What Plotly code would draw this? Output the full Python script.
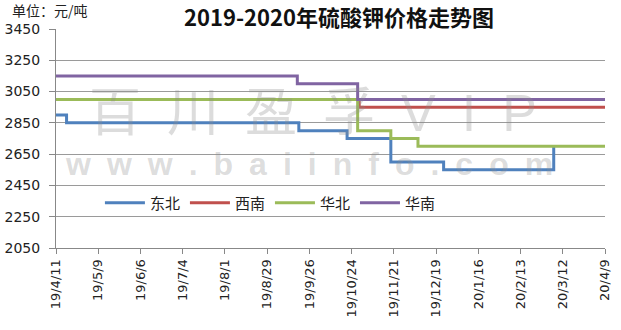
import plotly.graph_objects as go

# ---- data (change points of each weekly price series, 元/吨) ----
ne_dates = ["2019-04-11", "2019-04-18", "2019-09-19", "2019-10-21", "2019-11-19", "2019-12-24", "2020-03-06"]
ne_vals = [2900, 2850, 2800, 2750, 2600, 2550, 2700]

sw_dates = ["2019-04-11", "2019-10-29", "2020-04-09"]
sw_vals = [3000, 2950, 2950]

nc_dates = ["2019-04-11", "2019-10-28", "2019-11-19", "2019-12-07", "2020-04-09"]
nc_vals = [3000, 2800, 2750, 2700, 2700]

sc_dates = ["2019-04-11", "2019-09-18", "2019-10-28", "2020-04-09"]
sc_vals = [3150, 3100, 3000, 3000]

series_names = ["东北", "西南", "华北", "华南"]
series_colors = ["#4F81BD", "#C0504D", "#9BBB59", "#8064A2"]

tick_dates = ["2019-04-11", "2019-05-09", "2019-06-06", "2019-07-04", "2019-08-01", "2019-08-29",
              "2019-09-26", "2019-10-24", "2019-11-21", "2019-12-19", "2020-01-16", "2020-02-13",
              "2020-03-12", "2020-04-09"]
tick_labels = ["19/4/11", "19/5/9", "19/6/6", "19/7/4", "19/8/1", "19/8/29", "19/9/26",
               "19/10/24", "19/11/21", "19/12/19", "20/1/16", "20/2/13", "20/3/12", "20/4/9"]

y_ticks = [2050, 2250, 2450, 2650, 2850, 3050, 3250, 3450]

title_text = "2019-2020年硫酸钾价格走势图"
unit_text = "单位：元/吨"
watermark_1 = "\u2002".join("百川盈孚VIP")
watermark_2 = "\u2002".join("www.baiinfo.com")

FONT = "Noto Sans CJK SC"
WM_COLOR = "rgba(140,140,140,0.30)"

fig = go.Figure()
for name, xs, ys, col in zip(series_names,
                             [ne_dates, sw_dates, nc_dates, sc_dates],
                             [ne_vals, sw_vals, nc_vals, sc_vals],
                             series_colors):
    fig.add_trace(go.Scatter(x=xs, y=ys, name=name, mode="lines",
                             line=dict(color=col, width=3, shape="hv")))

# watermark
fig.add_annotation(text=watermark_1, xref="paper", yref="paper", x=0.468, y=0.616,
                   showarrow=False, yanchor="middle",
                   font=dict(family="Liberation Sans, Noto Sans CJK SC", size=52, color=WM_COLOR))
fig.add_annotation(text="<b>" + watermark_2 + "</b>", xref="paper", yref="paper", x=0.46, y=0.385,
                   showarrow=False, yanchor="middle",
                   font=dict(family="Liberation Sans", size=32, color=WM_COLOR))

fig.add_annotation(text="<b>" + title_text + "</b>", xref="paper", yref="paper", x=0.515, y=1.0,
                   yshift=13, showarrow=False, yanchor="middle",
                   font=dict(family=FONT, size=22, color="#111111"))
fig.add_annotation(text=unit_text, xref="paper", yref="paper", x=-0.083, y=1.0, xanchor="left",
                   yshift=19, showarrow=False, yanchor="middle",
                   font=dict(family=FONT, size=14, color="#222222"))

fig.update_layout(
    width=621, height=330,
    margin=dict(l=56, r=16, t=29, b=82),
    paper_bgcolor="white", plot_bgcolor="white",
    font=dict(family=FONT, size=12, color="#222222"),
    legend=dict(orientation="h", x=0.08, y=0.205, xanchor="left", yanchor="middle",
                font=dict(family=FONT, size=15, color="#222222"),
                bgcolor="rgba(0,0,0,0)", itemwidth=40, tracegroupgap=0),
    showlegend=True,
)
fig.update_xaxes(
    type="date", range=["2019-04-11", "2020-04-09"],
    tickvals=tick_dates, ticktext=tick_labels, tickangle=-90,
    showgrid=False, showline=True, linecolor="#888888", linewidth=1,
    ticks="outside", ticklen=5, tickcolor="#888888", automargin=False,
    tickfont=dict(family="DejaVu Sans", size=13, color="#222222"),
)
fig.update_yaxes(
    range=[2050, 3450], tickvals=y_ticks,
    showgrid=True, gridcolor="#9a9a9a", gridwidth=1,
    showline=True, linecolor="#888888", linewidth=1,
    ticks="outside", ticklen=6, tickcolor="#888888", zeroline=False,
    ticklabelstandoff=6, automargin=False,
    tickfont=dict(family="DejaVu Sans", size=14, color="#222222"),
)

fig.write_html("out.html")
